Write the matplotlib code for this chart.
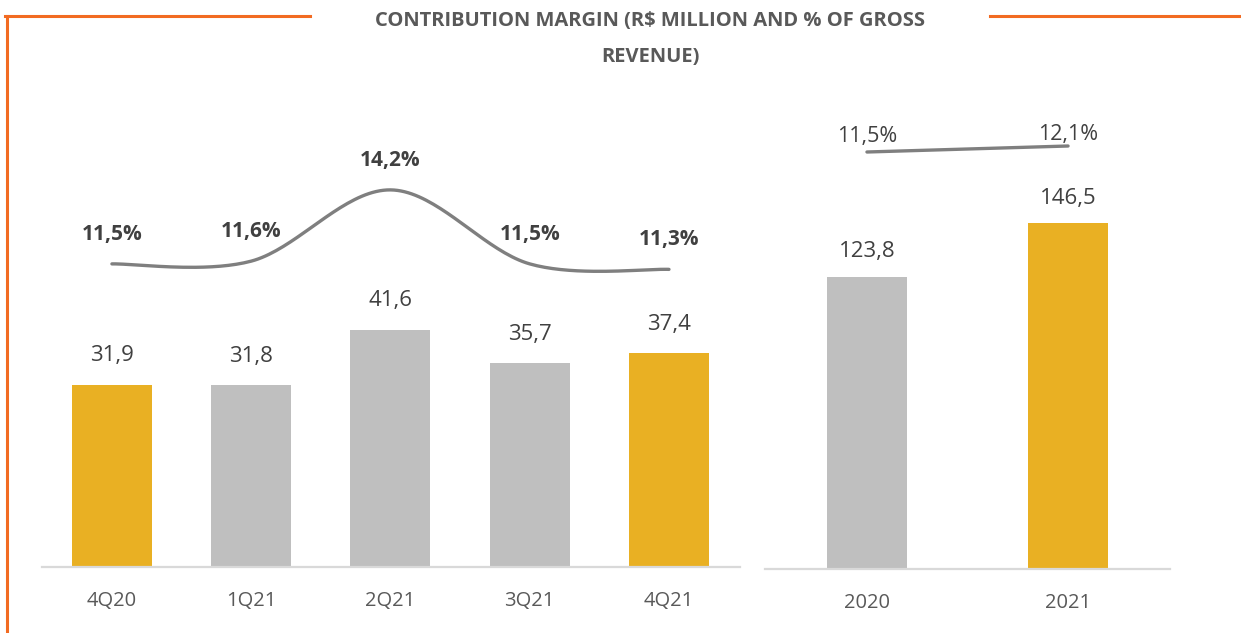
import numpy as np
import matplotlib
matplotlib.use("Agg")
import matplotlib.pyplot as plt
from matplotlib.lines import Line2D

plt.rcParams['font.family'] = ['Open Sans', 'DejaVu Sans']

# data
quarters = ["4Q20", "1Q21", "2Q21", "3Q21", "4Q21"]
q_margin = [31.9, 31.8, 41.6, 35.7, 37.4]
q_pct = [11.5, 11.6, 14.2, 11.5, 11.3]

years = ["2020", "2021"]
y_margin = [123.8, 146.5]
y_pct = [11.5, 12.1]

highlight = ["4Q20", "4Q21", "2021"]

GOLD = "#E9B023"
GREY_BAR = "#BFBFBF"
LINE = "#7F7F7F"
TXT = "#404040"
ORANGE = "#F26B22"

W, H = 1241, 633
fig = plt.figure(figsize=(W / 100, H / 100), dpi=100)


def px_axes(x0, x1, ytop, ybot):
    return fig.add_axes([x0 / W, 1 - ybot / H, (x1 - x0) / W, (ybot - ytop) / H])


def smooth(xs, ys, n=40):
    # catmull-rom style bezier, like the office "smoothed line"
    p = np.column_stack([xs, ys]).astype(float)
    p = np.vstack([p[0], p, p[-1]])
    out = []
    for i in range(1, len(p) - 2):
        p0, p1, p2, p3 = p[i - 1], p[i], p[i + 1], p[i + 2]
        c1 = p1 + (p2 - p0) / 6
        c2 = p2 - (p3 - p1) / 6
        t = np.linspace(0, 1, n)[:, None]
        seg = ((1 - t) ** 3) * p1 + 3 * ((1 - t) ** 2) * t * c1 + 3 * (1 - t) * t ** 2 * c2 + t ** 3 * p2
        out.append(seg)
    out = np.vstack(out)
    return out[:, 0], out[:, 1]


def fmt(v, pct=False):
    s = f"{v:.1f}".replace(".", ",")
    return s + "%" if pct else s


def style(ax):
    for s in ["top", "right", "left"]:
        ax.spines[s].set_visible(False)
    ax.spines["bottom"].set_color("#D9D9D9")
    ax.spines["bottom"].set_linewidth(1.6)
    ax.set_yticks([])
    ax.tick_params(axis="x", length=0, pad=17, labelsize=14.5, labelcolor="#595959")


# quarterly panel
ax = px_axes(42, 740, 100, 567)
cols = [GOLD if q in highlight else GREY_BAR for q in quarters]
ax.bar(range(len(quarters)), q_margin, width=0.574, color=cols)
ax.set_xlim(-0.502, 4.51)
ax.set_ylim(0, 81.8)
ax.set_xticks(range(len(quarters)))
ax.set_xticklabels(quarters)
style(ax)
for i, v in enumerate(q_margin):
    ax.annotate(fmt(v), (i, v), xytext=(0, 21), textcoords="offset points",
                ha="center", va="center", fontsize=16, color=TXT)

ax2 = ax.twinx()
ax2.set_ylim(0.44, 17.48)
ax2.axis("off")
sx, sy = smooth(range(len(q_pct)), q_pct)
ax2.plot(sx, sy, color=LINE, lw=2.4, solid_capstyle="round")
for i, v in enumerate(q_pct):
    ax2.annotate(fmt(v, True), (i, v), xytext=(0, 21.5), textcoords="offset points",
                 ha="center", va="center", fontsize=15, fontweight="bold", color=TXT)

# annual panel
bx = px_axes(765, 1170, 100, 569)
cols = [GOLD if y in highlight else GREY_BAR for y in years]
bx.bar(range(len(years)), y_margin, width=0.4, color=cols)
bx.set_xlim(-0.507, 1.507)
bx.set_ylim(0, 198.7)
bx.set_xticks(range(len(years)))
bx.set_xticklabels(years)
style(bx)
for i, v in enumerate(y_margin):
    bx.annotate(fmt(v), (i, v), xytext=(0, 18), textcoords="offset points",
                ha="center", va="center", fontsize=16, color=TXT)

bx2 = bx.twinx()
bx2.set_ylim(-30.2, 16.7)
bx2.axis("off")
bx2.plot(range(len(years)), y_pct, color=LINE, lw=2.4, solid_capstyle="round")
for i, v in enumerate(y_pct):
    bx2.annotate(fmt(v, True), (i, v), xytext=(0, 11.5 - 3.5 * i), textcoords="offset points",
                 ha="center", va="center", fontsize=15.5, color=TXT)

# title and frame
fig.text(650 / W, 1 - 21 / H, "CONTRIBUTION MARGIN (R$ MILLION AND % OF GROSS",
         ha="center", va="center", fontsize=14.5, fontweight="bold", color="#595959")
fig.text(650 / W, 1 - 57 / H, "REVENUE)",
         ha="center", va="center", fontsize=14.5, fontweight="bold", color="#595959")

yl = 1 - 16 / H
fig.add_artist(Line2D([5 / W, 310 / W], [yl, yl], color=ORANGE, lw=2.2))
fig.add_artist(Line2D([990 / W, 1.0], [yl, yl], color=ORANGE, lw=2.2))
fig.add_artist(Line2D([7 / W, 7 / W], [yl, 0], color=ORANGE, lw=2.2))

fig.savefig("out.png", dpi=100)
